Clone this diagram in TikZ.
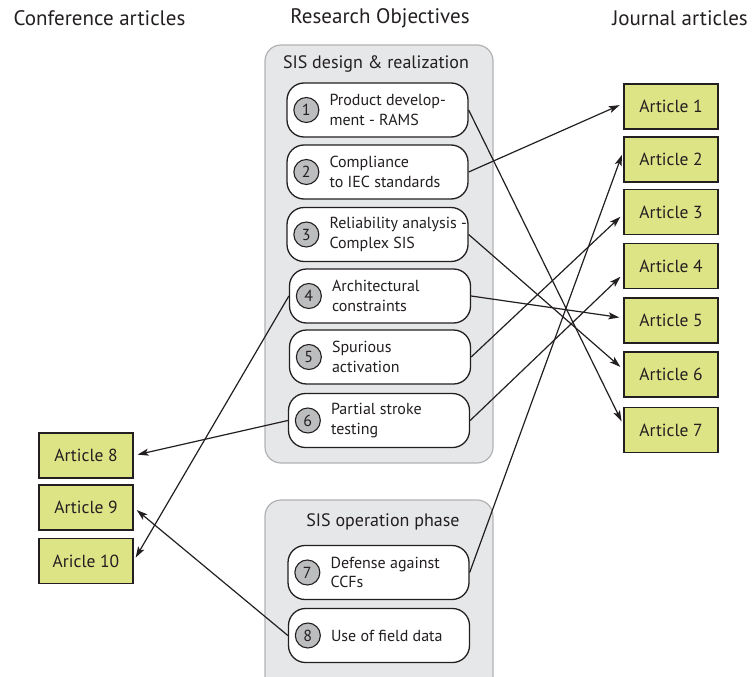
\documentclass[tikz,border=0pt]{standalone}
\usepackage{fontspec}
\setmainfont{PT Sans}
\usetikzlibrary{arrows.meta}
\definecolor{groupfill}{RGB}{230,231,232}
\definecolor{groupline}{RGB}{178,178,180}
\definecolor{artfill}{RGB}{220,228,134}
\definecolor{numfill}{RGB}{188,189,191}
\definecolor{inkline}{RGB}{35,31,32}
\tikzset{
  group/.style={draw=groupline, fill=groupfill, line width=1.2pt, rounded corners=16pt},
  grouptitle/.style={font=\fontsize{18}{21}\selectfont, text=inkline},
  header/.style={font=\fontsize{21}{24}\selectfont, text=inkline},
  objbox/.style={draw=inkline, fill=white, line width=1.3pt, rounded corners=17pt,
    minimum width=181pt, minimum height=54pt, inner sep=0pt},
  num/.style={circle, draw=inkline, fill=numfill, line width=1.1pt, minimum size=25pt,
    inner sep=0pt, font=\fontsize{16}{17}\selectfont, text=inkline},
  objtext/.style={anchor=west, align=left, inner sep=0pt,
    font=\fontsize{16}{19.5}\selectfont, text=inkline},
  article/.style={draw=inkline, fill=artfill, line width=1.3pt, minimum width=94pt,
    minimum height=45pt, inner sep=0pt, font=\fontsize{17.5}{20}\selectfont, text=inkline},
  link/.style={draw=inkline, line width=1.2pt, shorten >=4pt,
    -{Stealth[length=11pt,width=7pt,inset=2.5pt]}},
}
\begin{document}
\begin{tikzpicture}[x=1pt, y=-1pt]
\useasboundingbox (0,0) rectangle (752,677);
\clip (0,0) rectangle (752,677);

% column headers
\node[header] (hconf) at (99.5,18) {Conference articles};
\node[header] (hobj) at (380,18) {Research Objectives};
\node[header] (hjour) at (680,18) {Journal articles};

% objective groups
\draw[group] (265,45) rectangle (493,463);
\node[grouptitle] (gt1) at (376,64) {SIS design \& realization};
\draw[group] (265,500) rectangle (493,700);
\node[grouptitle] (gt2) at (383,522) {SIS operation phase};

% research objectives
\foreach \id/\x/\y/\txt in {
  1/377.5/110/{Product develop-\\ment - RAMS},
  2/377.5/172/{Compliance\\to IEC standards},
  3/377.5/234.5/{Reliability analysis -\\Complex SIS},
  4/380/296/{Architectural\\constraints},
  5/380/357/{Spurious\\activation},
  6/379/420.5/{Partial stroke\\testing},
  7/378.5/572.5/{Defense against\\CCFs},
  8/379/635.5/{Use of field data}}{
  \node[objbox] (o\id) at (\x,\y) {};
  \node[num] (n\id) at ([xshift=20pt]o\id.west) {\id};
  \node[objtext] (t\id) at ([xshift=43pt]o\id.west) {\txt};
}

% journal articles
\foreach \id/\y in {1/106.5, 2/159.5, 3/212, 4/266, 5/320.5, 6/374.5, 7/430}{
  \node[article] (a\id) at (671,\y) {Article \id};
}

% conference articles
\node[article] (a8) at (86,455.5) {Article 8};
\node[article] (a9) at (86,507.5) {Article 9};
\node[article] (a10) at (86,561) {Aricle 10};

% objective-to-article links
\draw[link] (o1.east) -- ([yshift=5pt]a7.west);
\draw[link] (o2.east) -- ([yshift=3pt]a1.west);
\draw[link] (o3.east) -- ([yshift=5pt]a6.west);
\draw[link] (o4.east) -- ([yshift=2.5pt]a5.west);
\draw[link] (o5.east) -- ([yshift=-2pt]a3.west);
\draw[link] (o6.east) -- ([yshift=-8pt]a4.west);
\draw[link] (o7.east) -- ([yshift=8.5pt]a2.west);
\draw[link] (o6.west) -- (a8.east);
\draw[link] (o4.west) -- (a10.east);
\draw[link] (o8.west) -- (a9.east);
\end{tikzpicture}
\end{document}
